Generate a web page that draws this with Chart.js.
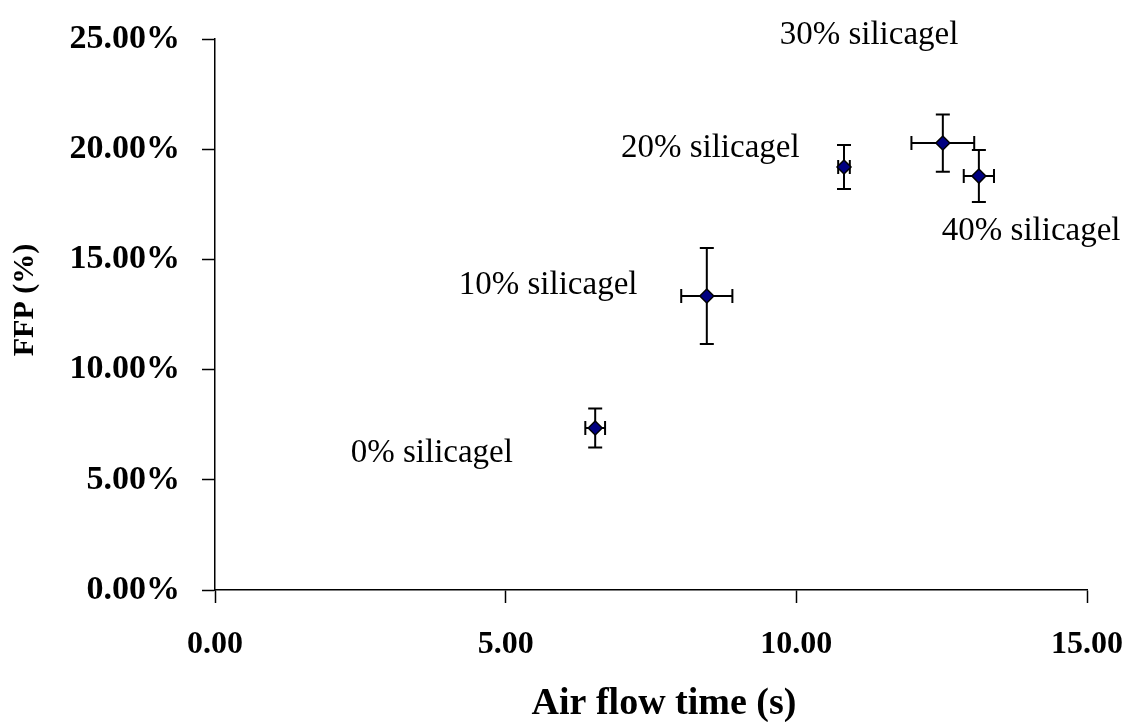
<!DOCTYPE html>
<html>
<head>
<meta charset="utf-8">
<script src="https://cdn.jsdelivr.net/npm/chart.js@4/dist/chart.umd.min.js"></script>
<style>
  html, body { margin: 0; padding: 0; background: #fff; }
  #wrap { width: 1128px; height: 722px; }
</style>
</head>
<body>
<div id="wrap"><canvas id="c" width="1128" height="722"></canvas></div>
<script>
// ---- data ----
const categories  = ['0% silicagel', '10% silicagel', '20% silicagel', '30% silicagel', '40% silicagel'];
const airFlowTime = [6.54, 8.46, 10.82, 12.52, 13.14];   // s
const ffp         = [7.35, 13.34, 19.19, 20.28, 18.78];  // %
const airFlowErr  = [0.17, 0.44, 0.10, 0.54, 0.26];      // s (±)
const ffpErr      = [0.88, 2.18, 1.00, 1.30, 1.18];      // % (±)
// label anchors (data units) for the text annotations
const labelAtX    = [3.73, 5.73, 8.52, 11.25, 14.04];
const labelAtY    = [6.22, 13.84, 20.05, 25.18, 16.29];
const xTickValues = [0, 5, 10, 15];
const yTickValues = [0, 5, 10, 15, 20, 25];
const xTitle = 'Air flow time (s)';
const yTitle = 'FFP (%)';

const points = airFlowTime.map((x, i) => ({ x: x, y: ffp[i] }));

const errorBarPlugin = {
  id: 'errorBars',
  beforeDatasetsDraw(chart) {
    const ctx = chart.ctx, xs = chart.scales.x, ys = chart.scales.y;
    ctx.save();
    ctx.strokeStyle = '#000';
    ctx.lineWidth = 2;
    const cap = 7;
    for (let i = 0; i < points.length; i++) {
      const px = xs.getPixelForValue(airFlowTime[i]);
      const py = ys.getPixelForValue(ffp[i]);
      const y1 = ys.getPixelForValue(ffp[i] + ffpErr[i]);
      const y2 = ys.getPixelForValue(ffp[i] - ffpErr[i]);
      const x1 = xs.getPixelForValue(airFlowTime[i] - airFlowErr[i]);
      const x2 = xs.getPixelForValue(airFlowTime[i] + airFlowErr[i]);
      ctx.beginPath();
      ctx.moveTo(px, y1); ctx.lineTo(px, y2);
      ctx.moveTo(px - cap, y1); ctx.lineTo(px + cap, y1);
      ctx.moveTo(px - cap, y2); ctx.lineTo(px + cap, y2);
      ctx.moveTo(x1, py); ctx.lineTo(x2, py);
      ctx.moveTo(x1, py - cap); ctx.lineTo(x1, py + cap);
      ctx.moveTo(x2, py - cap); ctx.lineTo(x2, py + cap);
      ctx.stroke();
    }
    ctx.restore();
  }
};

const textPlugin = {
  id: 'texts',
  afterDraw(chart) {
    const ctx = chart.ctx, xs = chart.scales.x, ys = chart.scales.y;
    ctx.save();
    ctx.fillStyle = '#000';
    ctx.textAlign = 'center';
    ctx.textBaseline = 'middle';
    ctx.font = '33px "Liberation Serif"';
    categories.forEach((t, i) => {
      ctx.fillText(t, xs.getPixelForValue(labelAtX[i]), ys.getPixelForValue(labelAtY[i]));
    });
    // axis titles
    ctx.font = 'bold 38px "Liberation Serif"';
    ctx.fillText(xTitle, 664, 704);
    ctx.translate(25, 300);
    ctx.rotate(-Math.PI / 2);
    ctx.font = 'bold 30px "Liberation Serif"';
    ctx.fillText(yTitle, 0, 0);
    ctx.restore();
  }
};

new Chart(document.getElementById('c'), {
  type: 'scatter',
  data: {
    datasets: [{
      label: 'FFP',
      data: points,
      pointStyle: 'rectRot',
      pointRadius: 7,
      pointHoverRadius: 7,
      backgroundColor: '#000080',
      borderColor: '#000',
      borderWidth: 1.5,
      clip: false
    }]
  },
  options: {
    responsive: false,
    animation: false,
    events: [],
    layout: { padding: { left: 0, right: 41, top: 39, bottom: 0 } },
    plugins: { legend: { display: false }, tooltip: { enabled: false } },
    scales: {
      x: {
        type: 'linear',
        min: 0, max: 15,
        afterBuildTicks(scale) { scale.ticks = xTickValues.map(v => ({ value: v })); },
        afterFit(scale) { scale.height = 132; scale.paddingLeft = 0; scale.paddingRight = 0; },
        ticks: {
          color: '#000',
          padding: 23,
          maxRotation: 0,
          font: { family: '"Liberation Serif"', size: 32, weight: 'bold' },
          callback: v => Number(v).toFixed(2)
        },
        grid: { drawOnChartArea: false, drawTicks: true, tickLength: 13, color: '#000', tickWidth: 1.5 },
        border: { display: true, color: '#000', width: 1.5 },
        title: { display: false }
      },
      y: {
        type: 'linear',
        min: 0, max: 25,
        afterBuildTicks(scale) { scale.ticks = yTickValues.map(v => ({ value: v })); },
        afterFit(scale) { scale.width = 215; scale.paddingTop = 0; scale.paddingBottom = 0; },
        ticks: {
          color: '#000',
          padding: 22,
          font: { family: '"Liberation Serif"', size: 34, weight: 'bold' },
          callback: v => Number(v).toFixed(2) + '%'
        },
        grid: { drawOnChartArea: false, drawTicks: true, tickLength: 13, color: '#000', tickWidth: 1.5 },
        border: { display: true, color: '#000', width: 1.5 },
        title: { display: false }
      }
    }
  },
  plugins: [errorBarPlugin, textPlugin]
});
</script>
</body>
</html>
